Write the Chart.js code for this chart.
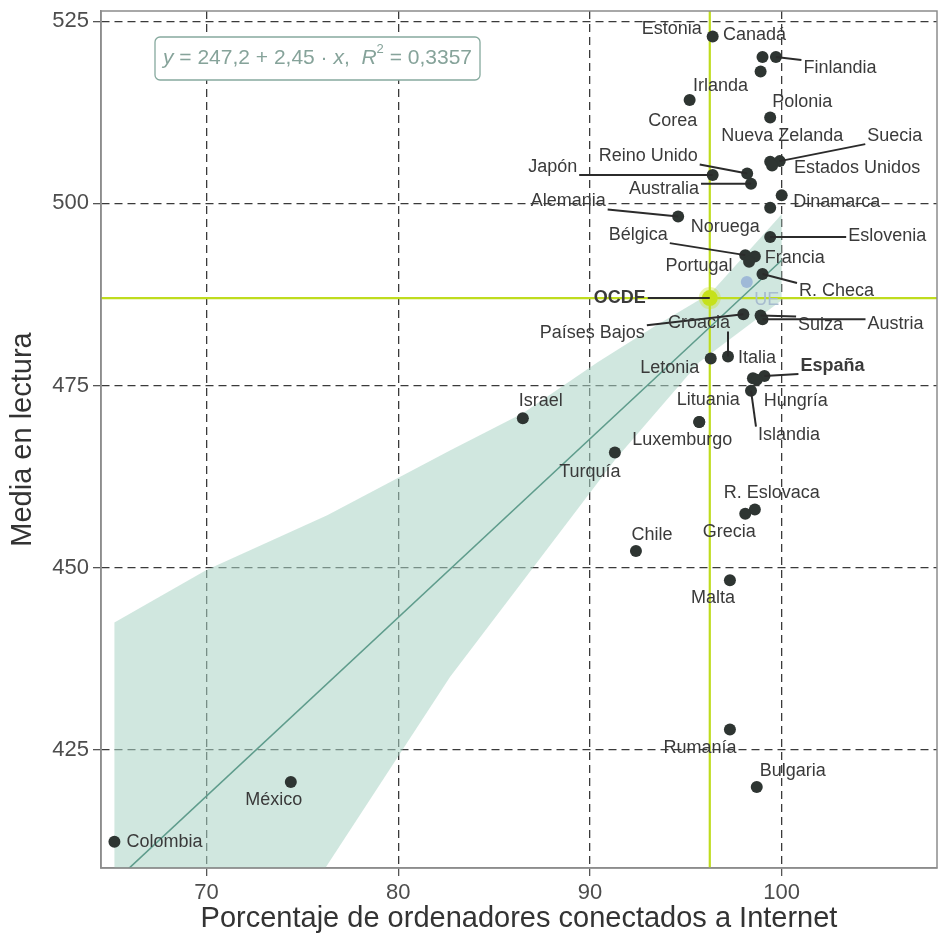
<!DOCTYPE html>
<html>
<head>
<meta charset="utf-8">
<script src="https://cdn.jsdelivr.net/npm/chart.js@4.4.0/dist/chart.umd.min.js"></script>
<style>
  html, body { margin: 0; padding: 0; background: #fff; overflow: hidden; }
  #wrap { width: 938px; height: 943px; }
  canvas { display: block; }
</style>
</head>
<body>
<div id="wrap"><canvas id="lectura"></canvas></div>
<script>
/*----------------------------------------------------------------*/
// datos
const paises = ['Estonia', 'Canadá', 'Finlandia', 'Irlanda', 'Corea', 'Polonia', 'Nueva Zelanda', 'Suecia',
    'Estados Unidos', 'Japón', 'Reino Unido', 'Australia', 'Dinamarca', 'Noruega', 'Alemania', 'Eslovenia',
    'Bélgica', 'Francia', 'Portugal', 'R. Checa', 'Países Bajos', 'Suiza', 'Austria', 'Croacia', 'Letonia',
    'Italia', 'España', 'Hungría', 'Islandia', 'Lituania', 'Luxemburgo', 'Israel', 'Turquía', 'R. Eslovaca',
    'Grecia', 'Chile', 'Malta', 'Rumanía', 'Bulgaria', 'México', 'Colombia'];
const pctInternet = [96.4, 99.0, 99.7, 98.9, 95.2, 99.4, 99.4, 99.9, 99.5, 96.4, 98.2, 98.4, 100.0, 99.4, 94.6, 99.4,
    98.1, 98.6, 98.3, 99.0, 98.0, 98.9, 99.0, 97.2, 96.3, 98.5, 99.1, 98.7, 98.4, 95.7, 95.7, 86.5, 91.3, 98.6,
    98.1, 92.4, 97.3, 97.3, 98.7, 74.4, 65.2];
const mediaLectura = [522.9, 520.1, 520.1, 518.1, 514.2, 511.8, 505.7, 505.8, 505.2, 503.9, 504.1, 502.7, 501.1, 499.4,
    498.2, 495.4, 492.9, 492.7, 492.0, 490.3, 484.8, 484.6, 484.1, 479.0, 478.7, 476.0, 476.3, 475.8, 474.3, 470.0,
    470.0, 470.5, 465.8, 458.0, 457.4, 452.3, 448.3, 427.8, 419.9, 420.6, 412.4];
const ocde = { x: 96.25, y: 487.0 };
const ue = { x: 98.18, y: 489.2 };

// recta de ajuste y banda de confianza
const ajusteX = [65.2, 100.0];
const ajusteY = [406.9, 492.2];
const bandaX = [65.2, 70.0, 76.3, 82.7, 86.5, 90.4, 93.3, 96.3, 100.0, 100.0, 95.7, 91.3, 82.7, 76.2, 65.2];
const bandaY = [442.5, 449.7, 457.2, 466.1, 471.2, 478.2, 483.0, 487.7, 498.5, 486.7, 478.2, 464.8, 435.0, 408.8, 408.8];

const xTicks = [70, 80, 90, 100];
const yTicks = [425, 450, 475, 500, 525];
const xMin = 64.5, xMax = 108.1, yMin = 408.8, yMax = 526.4;

/*----------------------------------------------------------------*/
// colocación de etiquetas: [dx, dy] en px respecto al punto, true = línea guía
const posEtiqueta = {
    'Estonia': [-41, -7], 'Canadá': [-8, -22], 'Finlandia': [64, 11, true], 'Irlanda': [-40, 15],
    'Corea': [-17, 21], 'Polonia': [32, -15], 'Nueva Zelanda': [12, -26], 'Suecia': [115, -25, true],
    'Estados Unidos': [85, 3], 'Japón': [-160, -8, true], 'Reino Unido': [-99, -17, true],
    'Australia': [-87, 5, true], 'Dinamarca': [55, 7], 'Noruega': [-45, 19], 'Alemania': [-110, -15, true],
    'Eslovenia': [117, -1, true], 'Bélgica': [-107, -20, true], 'Francia': [40, 1], 'Portugal': [-50, 4],
    'R. Checa': [74, 17, true], 'Países Bajos': [-151, 19, true], 'Suiza': [60, 9, true],
    'Austria': [133, 5, true], 'Croacia': [-29, -33, true], 'Letonia': [-41, 9], 'Italia': [4, -20],
    'España': [68, -10, true], 'Hungría': [39, 21], 'Islandia': [38, 44, true], 'Lituania': [9, -22],
    'Luxemburgo': [-17, 18], 'Israel': [18, -17], 'Turquía': [-25, 19], 'R. Eslovaca': [17, -16],
    'Grecia': [-16, 18], 'Chile': [16, -16], 'Malta': [-17, 18], 'Rumanía': [-30, 18], 'Bulgaria': [36, -16],
    'México': [-17, 18], 'Colombia': [50, 0]
};
const negrita = ['España'];
const fuente = '"Liberation Sans", Arial, sans-serif';

const etiquetas = {
    id: 'etiquetas',
    afterDatasetsDraw(chart) {
        const { ctx, scales: { x, y } } = chart;
        const items = paises.map((p, i) => ({ txt: p, px: pctInternet[i], py: mediaLectura[i], pos: posEtiqueta[p], bold: negrita.includes(p), color: '#3a3a3a' }));
        items.push({ txt: 'OCDE', px: ocde.x, py: ocde.y, pos: [-90, 0, true], bold: true, color: '#3a3a3a' });
        items.push({ txt: 'UE', px: ue.x, py: ue.y, pos: [20, 18], bold: false, color: '#a7bccf' });
        ctx.save();
        ctx.textAlign = 'center';
        ctx.textBaseline = 'middle';
        items.forEach(it => {
            const cx = x.getPixelForValue(it.px);
            const cy = y.getPixelForValue(it.py);
            const lx = cx + it.pos[0];
            const ly = cy + it.pos[1];
            ctx.font = (it.bold ? 'bold ' : '') + '18px ' + fuente;
            const w = ctx.measureText(it.txt).width;
            if (it.pos[2]) {
                const ex = Math.min(Math.max(cx, lx - w / 2 - 2), lx + w / 2 + 2);
                const ey = Math.min(Math.max(cy, ly - 8), ly + 8);
                ctx.strokeStyle = '#2b2b2b';
                ctx.lineWidth = 2;
                ctx.beginPath();
                ctx.moveTo(cx, cy);
                ctx.lineTo(ex, ey);
                ctx.stroke();
            }
            ctx.fillStyle = it.color;
            ctx.fillText(it.txt, lx, ly);
        });
        ctx.restore();
    }
};

/*----------------------------------------------------------------*/
// marco gris y recuadro con la ecuación
const marco = {
    id: 'marco',
    afterDatasetsDraw(chart) {
        const { ctx, chartArea: a } = chart;
        ctx.save();
        ctx.strokeStyle = '#8c8c8c';
        ctx.lineWidth = 1.5;
        ctx.strokeRect(a.left, a.top, a.right - a.left, a.bottom - a.top);

        const partes = [
            ['y', 'italic '], [' = 247,2 + 2,45 · ', ''], ['x', 'italic '], [',  ', ''],
            ['R', 'italic '], ['2', 'sup'], [' = 0,3357', '']
        ];
        const bx = a.left + 54, by = a.top + 26, bh = 43;
        let total = 0;
        partes.forEach(([t, f]) => {
            ctx.font = (f === 'sup' ? '13px ' : f + '21px ') + fuente;
            total += ctx.measureText(t).width;
        });
        const bw = total + 16;
        ctx.fillStyle = '#ffffff';
        ctx.strokeStyle = '#86a99e';
        ctx.lineWidth = 1.3;
        ctx.beginPath();
        ctx.roundRect(bx, by, bw, bh, 5);
        ctx.fill();
        ctx.stroke();
        ctx.fillStyle = '#86a39a';
        ctx.textBaseline = 'middle';
        ctx.textAlign = 'left';
        let tx = bx + 8;
        partes.forEach(([t, f]) => {
            ctx.font = (f === 'sup' ? '13px ' : f + '21px ') + fuente;
            ctx.fillText(t, tx, f === 'sup' ? by + bh / 2 - 9 : by + bh / 2);
            tx += ctx.measureText(t).width;
        });
        ctx.restore();
    }
};

/*----------------------------------------------------------------*/
new Chart(document.getElementById('lectura'), {
    type: 'scatter',
    data: {
        datasets: [
            {
                label: 'OCDE',
                data: [{ x: ocde.x, y: ocde.y }],
                pointRadius: 8,
                backgroundColor: '#c6e11c',
                borderColor: 'rgba(198, 225, 28, 0.35)',
                borderWidth: 6,
                order: 0
            },
            {
                label: 'UE',
                data: [{ x: ue.x, y: ue.y }],
                pointRadius: 6,
                backgroundColor: 'rgba(150, 178, 214, 0.85)',
                borderWidth: 0,
                order: 0
            },
            {
                label: 'Países',
                data: paises.map((p, i) => ({ x: pctInternet[i], y: mediaLectura[i] })),
                pointRadius: 6,
                backgroundColor: '#2e3532',
                borderWidth: 0,
                order: 1
            },
            {
                type: 'line',
                label: 'Ajuste',
                data: ajusteX.map((v, i) => ({ x: v, y: ajusteY[i] })),
                borderColor: '#5f9c8c',
                borderWidth: 1.6,
                pointRadius: 0,
                fill: false,
                order: 3
            },
            {
                type: 'line',
                label: 'OCDE h',
                data: [{ x: xMin, y: ocde.y }, { x: xMax, y: ocde.y }],
                borderColor: '#bfdc1e',
                borderWidth: 2.2,
                pointRadius: 0,
                fill: false,
                order: 4
            },
            {
                type: 'line',
                label: 'OCDE v',
                data: [{ x: ocde.x, y: yMin }, { x: ocde.x, y: yMax }],
                borderColor: '#bfdc1e',
                borderWidth: 2.2,
                pointRadius: 0,
                fill: false,
                order: 4
            },
            {
                type: 'line',
                label: 'Banda',
                data: bandaX.map((v, i) => ({ x: v, y: bandaY[i] })),
                borderColor: 'transparent',
                borderWidth: 0,
                backgroundColor: 'rgba(170, 211, 197, 0.55)',
                pointRadius: 0,
                fill: 'shape',
                order: 6
            }
        ]
    },
    options: {
        responsive: true,
        maintainAspectRatio: false,
        animation: false,
        layout: {
            autoPadding: false,
            padding: { top: 11, right: 1, left: 0, bottom: 0 }
        },
        plugins: {
            legend: { display: false },
            tooltip: { enabled: false }
        },
        scales: {
            x: {
                type: 'linear',
                min: xMin,
                max: xMax,
                afterBuildTicks: (s) => { s.ticks = xTicks.map(v => ({ value: v })); },
                afterFit: (s) => { s.height = 75; s.paddingLeft = 0; s.paddingRight = 0; },
                ticks: {
                    color: '#4d4d4d',
                    font: { size: 22, family: fuente },
                    padding: 4,
                    maxRotation: 0
                },
                grid: { color: '#3a3a3a', lineWidth: 1.3, tickLength: 8, tickColor: '#555', tickWidth: 1.3 },
                border: { display: true, color: '#8c8c8c', width: 1.5, dash: [8, 5] },
                title: {
                    display: true,
                    text: 'Porcentaje de ordenadores conectados a Internet',
                    color: '#333',
                    font: { size: 29, family: fuente },
                    padding: { top: 0, bottom: 7 }
                }
            },
            y: {
                type: 'linear',
                min: yMin,
                max: yMax,
                afterBuildTicks: (s) => { s.ticks = yTicks.map(v => ({ value: v })); },
                afterFit: (s) => { s.width = 101; s.paddingTop = 0; s.paddingBottom = 0; },
                ticks: {
                    color: '#4d4d4d',
                    font: { size: 22, family: fuente },
                    padding: 4
                },
                grid: { color: '#3a3a3a', lineWidth: 1.3, tickLength: 8, tickColor: '#555', tickWidth: 1.3 },
                border: { display: true, color: '#8c8c8c', width: 1.5, dash: [8, 5] },
                title: {
                    display: true,
                    text: 'Media en lectura',
                    color: '#333',
                    font: { size: 29, family: fuente },
                    padding: { top: 6, bottom: 0 }
                }
            }
        }
    },
    plugins: [marco, etiquetas]
});
</script>
</body>
</html>
